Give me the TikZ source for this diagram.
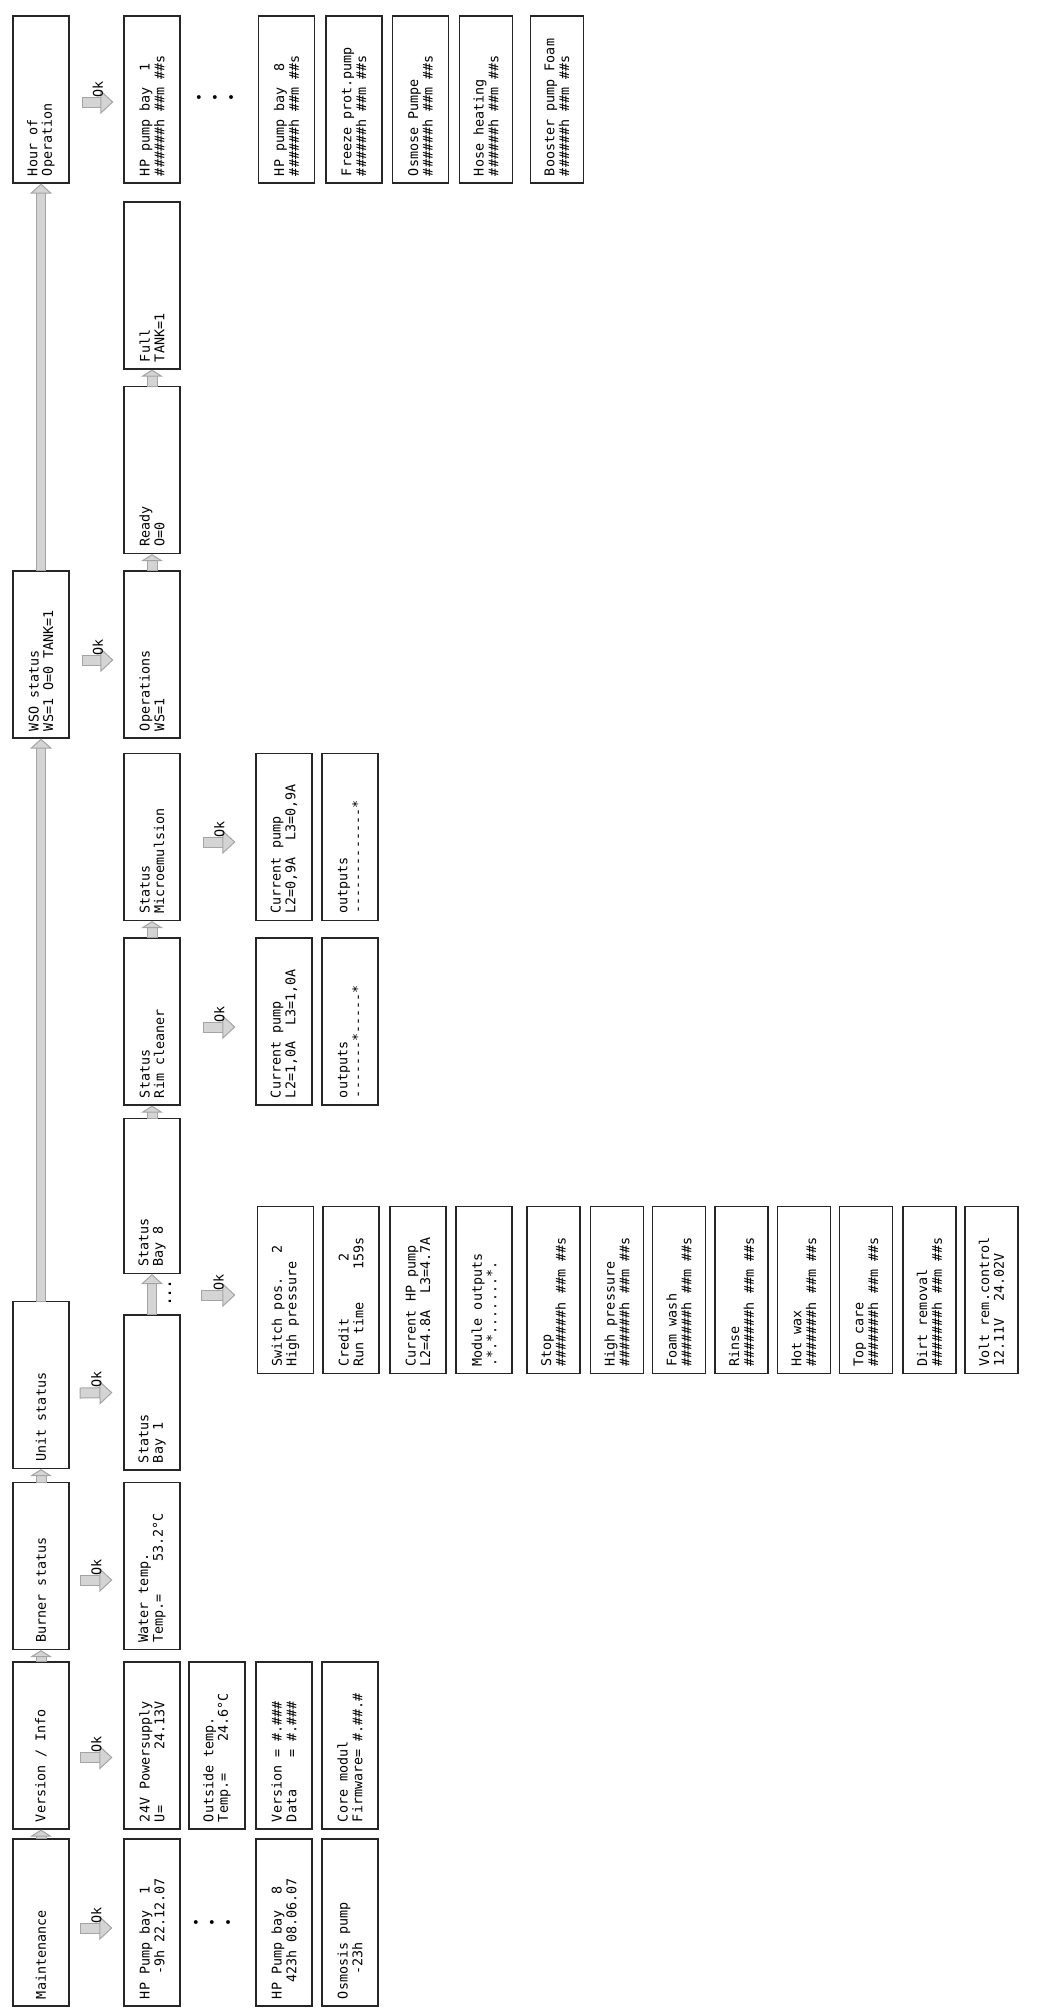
\documentclass[tikz,border=0pt]{standalone}
\usepackage{fontspec}
\setmonofont{DejaVu Sans Mono}
\usetikzlibrary{arrows.meta}
\definecolor{okfill}{HTML}{D4D4D4}
\definecolor{okedge}{HTML}{A4A4A4}
\newcommand{\lcdfont}{\ttfamily\fontsize{6.7}{7.3}\selectfont}
\newcommand{\hpcount}{\#\#\#\#\#\#h \#\#m \#\#s}
\newcommand{\baycount}{\#\#\#\#\#\#\#h \#\#m \#\#s}

\begin{document}
\begin{tikzpicture}[x=0.5pt,y=0.5pt]
\tikzstyle{lcd}=[draw=black!85, line width=0.6pt, rotate=90, align=left, inner xsep=3.5pt, inner ysep=0pt, minimum height=28pt, text width=76.5pt, font=\lcdfont, execute at begin node={\spaceskip=\fontdimen2\font\xspaceskip=\fontdimen2\font}]
\tikzstyle{shortlcd}=[lcd, text width=70.5pt]
\tikzstyle{narrow}=[minimum height=26.5pt]
\tikzstyle{oklabel}=[pos=0.5, yshift=6.5pt, rotate=90, inner sep=0pt, font=\lcdfont]
\tikzstyle{okarrow}=[draw=okfill, line width=4.5pt, -{Triangle[width=12pt,length=6.5pt,fill=okfill,color=okedge,line width=0.5pt]}, preaction={draw=okedge, line width=5.5pt, -, shorten >=6pt, shorten <=-0.5pt}]
\tikzstyle{nextarrow}=[draw=okfill, line width=4.5pt, -{Triangle[width=11pt,length=3.5pt,fill=okfill,color=okedge,line width=0.5pt]}, preaction={draw=okedge, line width=5.5pt, -, shorten >=3pt, shorten <=-0.5pt}]
\tikzstyle{longarrow}=[draw=okfill, line width=4pt, -{Triangle[width=11pt,length=5pt,fill=okfill,color=okedge,line width=0.5pt]}, preaction={draw=okedge, line width=5pt, -, shorten >=4.5pt, shorten <=-0.5pt}]
\useasboundingbox (0,0) rectangle (1062,-2009);

\node[lcd] (maint) at (41,-1922.5) {Maintenance};
\node[lcd] (ver) at (41,-1745.5) {Version / Info};
\node[lcd] (burn) at (41,-1566) {Burner status};
\node[lcd] (unit) at (41,-1385) {Unit status};
\node[lcd] (wso) at (41,-654.5) {WSO status\\WS=1 O=0 TANK=1};
\node[lcd] (hour) at (41,-99.5) {Hour of\\Operation};

\node[lcd] (hp1) at (152,-1922.5) {HP Pump bay~~1\\~~~-9h 22.12.07};
\node[lcd] (pwr) at (152,-1745.5) {24V Powersupply\\U=~~~~~~~24.13V};
\node[lcd] (water) at (152,-1566) {Water temp.\\Temp.=~~~~53.2°C};
\node[shortlcd] (bay1) at (152,-1392.5) {Status\\Bay 1};
\node[shortlcd] (bay8) at (152,-1196) {Status\\Bay 8};
\node[lcd] (rim) at (152,-1021.5) {Status\\Rim cleaner};
\node[lcd] (micro) at (152,-837) {Status\\Microemulsion};
\node[lcd] (oper) at (152,-654.5) {Operations\\WS=1};
\node[lcd] (ready) at (152,-470) {Ready\\O=0};
\node[lcd] (full) at (152,-285.5) {Full\\TANK=1};
\node[lcd] (hop1) at (152,-99.5) {HP pump bay~~1\\\hpcount};

\node[lcd] (outside) at (217,-1745.5) {Outside temp.\\Temp.=~~~~24.6°C};
\node[font=\lcdfont, inner sep=0pt] (mdots) at (212,-1924) {•~•~•};
\node[font=\lcdfont, inner sep=0pt] (hdots) at (215,-99) {•~•~•};
\node[rotate=90, font=\lcdfont\bfseries, inner sep=0pt] (baydots) at (170,-1293) {...};

\node[lcd] (hp8) at (284,-1922.5) {HP Pump bay~~8\\~~423h 08.06.07};
\node[lcd] (version) at (284,-1745.5) {Version = \#.\#\#\#\\Data~~~~= \#.\#\#\#};
\node[lcd] (sw) at (285.5,-1290) {Switch pos.~~~2\\High pressure};
\node[lcd] (cur1) at (284,-1021.5) {Current pump\\L2=1,0A~~L3=1,0A};
\node[lcd] (cur2) at (284,-837) {Current pump\\L2=0,9A~~L3=0,9A};
\node[lcd] (hop8) at (286.5,-99.5) {HP pump bay~~8\\\hpcount};

\node[lcd] (osmo) at (350,-1922.5) {Osmosis pump\\~~~-23h};
\node[lcd] (core) at (350,-1745.5) {Core modul\\Firmware= \#.\#\#.\#};
\node[lcd] (credit) at (351,-1290) {Credit~~~~~~~2\\Run time~~~~159s};
\node[lcd] (out1) at (350,-1021.5) {outputs\\*-------*-----*};
\node[lcd] (out2) at (350,-837) {outputs\\*-------------*};
\node[lcd] (freeze) at (354,-99.5) {Freeze prot.pump\\\hpcount};

\node[lcd] (curhp) at (418,-1290) {Current HP pump\\L2=4.8A~~L3=4.7A};
\node[lcd] (modout) at (484,-1290) {Module outputs\\*.*.*.......*.};
\node[lcd, narrow] (stop) at (553.5,-1290) {Stop\\\baycount};
\node[lcd, narrow] (hipr) at (617,-1290) {High pressure\\\baycount};
\node[lcd, narrow] (foam) at (679,-1290) {Foam wash\\\baycount};
\node[lcd, narrow] (rinse) at (741.5,-1290) {Rinse\\\baycount};
\node[lcd, narrow] (hotwax) at (804,-1290) {Hot wax\\\baycount};
\node[lcd, narrow] (topcare) at (866,-1290) {Top care\\\baycount};
\node[lcd, narrow] (dirt) at (929.5,-1290) {Dirt removal\\\baycount};
\node[lcd, narrow] (volt) at (991.5,-1290) {Volt rem.control\\12.11V~~24.02V};

\node[lcd] (osmose) at (420.5,-99.5) {Osmose Pumpe\\\hpcount};
\node[lcd, narrow] (hose) at (486,-99.5) {Hose heating\\\hpcount};
\node[lcd, narrow] (booster) at (557,-99.5) {Booster pump Foam\\\hpcount};

\draw[nextarrow] (maint.east) -- (ver.west);
\draw[nextarrow] (ver.east) -- (burn.west);
\draw[nextarrow] (burn.east) -- (unit.west);
\draw[longarrow] (unit.east) -- (wso.west);
\draw[longarrow] (wso.east) -- (hour.west);
\draw[longarrow] (bay1.east) -- (bay8.west);
\draw[nextarrow] (bay8.east) -- (rim.west);
\draw[nextarrow] (rim.east) -- (micro.west);
\draw[nextarrow] (oper.east) -- (ready.west);
\draw[nextarrow] (ready.east) -- (full.west);

\coordinate (bayok) at (202,-1295);
\draw[okarrow] ([xshift=5.5pt,yshift=-2.75pt]maint.south) -- ([xshift=-5.5pt,yshift=-2.75pt]hp1.north) node[oklabel] {Ok};
\draw[okarrow] ([xshift=5.5pt,yshift=-6pt]ver.south) -- ([xshift=-5.5pt,yshift=-6pt]pwr.north) node[oklabel] {Ok};
\draw[okarrow] ([xshift=5.5pt,yshift=-7pt]burn.south) -- ([xshift=-5.5pt,yshift=-7pt]water.north) node[oklabel] {Ok};
\draw[okarrow] ([xshift=5.5pt,yshift=-4pt]unit.south) -- ([xshift=-5.5pt]bay1.north) node[oklabel] {Ok};
\draw[okarrow] (bayok) -- ([xshift=-10.75pt,yshift=-2.5pt]sw.north) node[oklabel] {Ok};
\draw[okarrow] ([xshift=11.5pt,yshift=-2.75pt]rim.south) -- ([xshift=-10pt,yshift=-2.75pt]cur1.north) node[oklabel] {Ok};
\draw[okarrow] ([xshift=11.5pt,yshift=-2.5pt]micro.south) -- ([xshift=-10pt,yshift=-2.5pt]cur2.north) node[oklabel] {Ok};
\draw[okarrow] ([xshift=6.5pt,yshift=-2.75pt]wso.south) -- ([xshift=-5pt,yshift=-2.75pt]oper.north) node[oklabel] {Ok};
\draw[okarrow] ([xshift=6.5pt,yshift=-1.25pt]hour.south) -- ([xshift=-5pt,yshift=-1.25pt]hop1.north) node[oklabel] {Ok};
\end{tikzpicture}
\end{document}
